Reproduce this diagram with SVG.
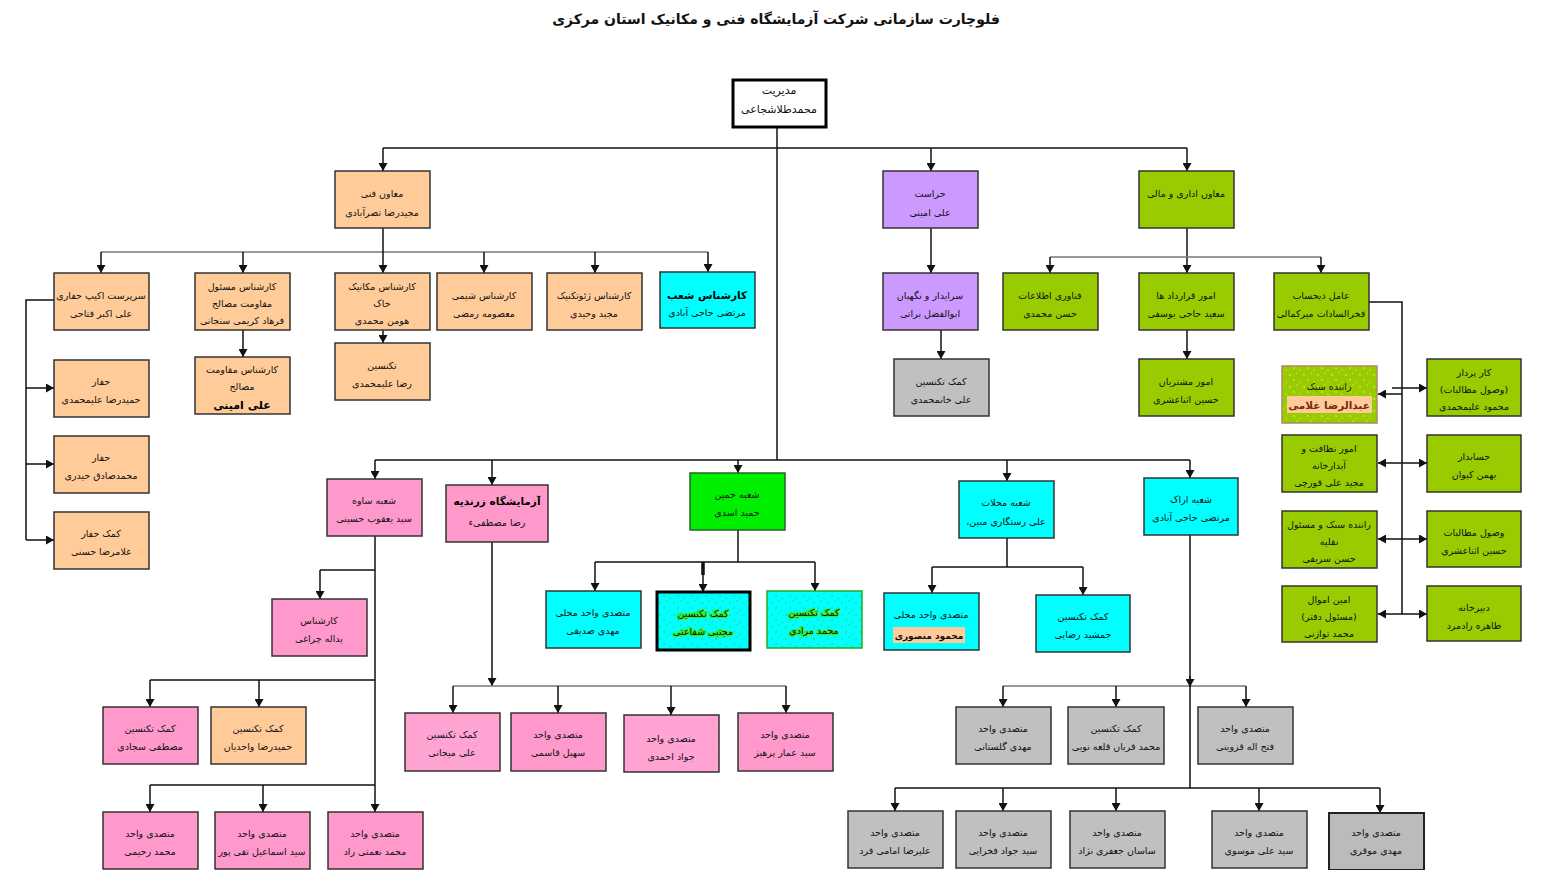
<svg xmlns="http://www.w3.org/2000/svg" width="1551" height="870" viewBox="0 0 1551 870">
<style>
.box{stroke:#333;stroke-width:1.5}
.peach{fill:#FFCC99}.pink{fill:#FF99CC}.lpink{fill:#FFA3D2}.cyan{fill:#00FFFF}.green{fill:#99CC00}.lav{fill:#CC99FF}.gray{fill:#C0C0C0}.lime{fill:#00FF00}
.t{font-family:"DejaVu Sans",sans-serif;font-size:9.5px;fill:#111;text-anchor:middle;direction:rtl}
.tb{font-family:"DejaVu Sans",sans-serif;font-size:10.5px;font-weight:bold;fill:#000;text-anchor:middle;direction:rtl}
.glow{stroke:#33EE33;stroke-width:2.5;paint-order:stroke;stroke-linejoin:round}
.c{fill:none;stroke:#111;stroke-width:1.5}
.cg{fill:none;stroke:#777;stroke-width:1.5}
.a{fill:none;stroke:#111;stroke-width:1.5;marker-end:url(#ar)}
</style>
<defs>
<marker id="ar" markerUnits="userSpaceOnUse" markerWidth="9" markerHeight="9" refX="8" refY="4.5" orient="auto"><path d="M0,0 L8,4.5 L0,9 z" fill="#111"/></marker>
<pattern id="speck" width="14" height="12" patternUnits="userSpaceOnUse"><circle cx="2" cy="3" r="0.8" fill="#33CC33"/><circle cx="9" cy="1" r="0.7" fill="#33CC33"/><circle cx="6" cy="8" r="0.8" fill="#33CC33"/><circle cx="12" cy="10" r="0.7" fill="#33CC33"/></pattern>
<pattern id="speckY" width="14" height="12" patternUnits="userSpaceOnUse"><circle cx="2" cy="3" r="0.7" fill="#FFFF88"/><circle cx="9" cy="1" r="0.6" fill="#FFFF88"/><circle cx="6" cy="8" r="0.7" fill="#FFFF88"/><circle cx="12" cy="10" r="0.6" fill="#FFFF88"/></pattern>
<pattern id="speckP" width="14" height="12" patternUnits="userSpaceOnUse"><circle cx="3" cy="4" r="0.6" fill="#FFD0E8"/><circle cx="10" cy="9" r="0.6" fill="#FFD0E8"/></pattern>
</defs>

<text x="776" y="24" style="font-family:'DejaVu Sans',sans-serif;font-size:14px;font-weight:bold;fill:#111;text-anchor:middle;direction:rtl">فلوچارت سازمانی شرکت آزمایشگاه فنی و مکانیک استان مرکزی</text>

<g id="connectors">
<path class="c" d="M777 127 V460"/>
<path class="c" d="M383 148 H1187"/>
<path class="a" d="M383 148 V171"/><path class="a" d="M931 148 V171"/><path class="a" d="M1187 148 V171"/>
<path class="cg" d="M101 252 H708"/>
<path class="a" d="M383 228 V273"/>
<path class="a" d="M101 252 V273"/><path class="a" d="M243 252 V273"/><path class="a" d="M484 252 V273"/><path class="a" d="M595 252 V273"/><path class="a" d="M708 252 V272"/>
<path class="a" d="M383 330 V343"/><path class="a" d="M243 330 V357"/>
<path class="c" d="M54 300 H26 V540"/>
<path class="a" d="M26 388 H54"/><path class="a" d="M26 464 H54"/><path class="a" d="M26 540 H54"/>
<path class="a" d="M931 228 V273"/><path class="a" d="M941 330 V359"/>
<path class="a" d="M1187 228 V273"/>
<path class="cg" d="M1050 257 H1321"/>
<path class="a" d="M1050 257 V273"/><path class="a" d="M1321 257 V273"/>
<path class="a" d="M1187 330 V359"/>
<path class="c" d="M1369 302 H1402 V614"/>
<path class="a" d="M1402 394 H1378"/><path class="a" d="M1392 388 H1427"/>
<path class="a" d="M1402 463 H1378"/><path class="a" d="M1402 463 H1427"/>
<path class="a" d="M1402 539 H1378"/><path class="a" d="M1402 539 H1427"/>
<path class="a" d="M1402 614 H1378"/><path class="a" d="M1402 614 H1427"/>
<path class="c" d="M375 460 H1190"/>
<path class="a" d="M375 460 V479"/><path class="a" d="M492 460 V485"/><path class="a" d="M738 460 V473"/><path class="a" d="M1007 460 V481"/><path class="a" d="M1190 460 V478"/>
<path class="a" d="M375 536 V812"/>
<path class="c" d="M375 570 H320"/><path class="a" d="M320 570 V599"/>
<path class="c" d="M375 680 H150"/><path class="a" d="M150 680 V707"/><path class="a" d="M259 680 V707"/>
<path class="c" d="M375 785 H150"/><path class="a" d="M150 785 V812"/><path class="a" d="M263 785 V812"/>
<path class="a" d="M492 542 V686"/>
<path class="cg" d="M453 686 H786"/>
<path class="a" d="M453 686 V713"/><path class="a" d="M558 686 V713"/><path class="a" d="M671 686 V715"/><path class="a" d="M786 686 V713"/>
<path class="c" d="M738 530 V562"/>
<path class="c" d="M595 562 H815"/>
<path class="a" d="M595 562 V591"/><path class="a" d="M703 562 V592"/><path class="a" d="M815 562 V591"/>
<path d="M703 562 V575" stroke="#111" stroke-width="3.5"/>
<path class="c" d="M1007 538 V567"/>
<path class="c" d="M932 567 H1083"/>
<path class="a" d="M932 567 V593"/><path class="a" d="M1083 567 V595"/>
<path class="c" d="M1190 535 V788"/>
<path class="cg" d="M1003 686 H1246"/>
<path class="a" d="M1003 686 V707"/><path class="a" d="M1116 686 V707"/><path class="a" d="M1246 686 V707"/>
<path class="a" d="M1190 676 V687"/>
<path class="c" d="M895 788 H1380"/>
<path class="a" d="M895 788 V811"/><path class="a" d="M1003 788 V811"/><path class="a" d="M1116 788 V811"/><path class="a" d="M1259 788 V811"/><path class="a" d="M1380 788 V813"/>
</g>

<g id="n-top"><rect x="733" y="80" width="93" height="47" fill="#fff" stroke="#000" stroke-width="3"/><text class="t" x="779" y="94" style="font-size:11px">مدیریت</text><text class="t" x="779" y="113" style="font-size:11px">محمدطلاشجاعی</text></g>

<g id="n-fanni"><rect class="box peach" x="335" y="171" width="95" height="57"/><text class="t" x="382" y="197">معاون فنی</text><text class="t" x="382" y="216">مجیدرضا تصرآبادی</text></g>
<g id="n-herasat"><rect class="box lav" x="883" y="171" width="95" height="57"/><text class="t" x="930" y="197">حراست</text><text class="t" x="930" y="216">علی امینی</text></g>
<g id="n-edari"><rect class="box green" x="1139" y="171" width="95" height="57"/><text class="t" x="1186" y="197">معاون اداری و مالی</text></g>

<g id="n-sarparast"><rect class="box peach" x="54" y="273" width="95" height="57"/><text class="t" x="101" y="299">سرپرست اکیپ حفاری</text><text class="t" x="101" y="317">علی اکبر فتاحی</text></g>
<g id="n-masool"><rect class="box peach" x="195" y="273" width="95" height="57"/><text class="t" x="242" y="290">کارشناس مسئول</text><text class="t" x="242" y="307">مقاومت مصالح</text><text class="t" x="242" y="324">فرهاد کریمی سنجانی</text></g>
<g id="n-mechanic"><rect class="box peach" x="335" y="273" width="95" height="57"/><text class="t" x="382" y="290">کارشناس مکانیک</text><text class="t" x="382" y="307">خاک</text><text class="t" x="382" y="324">هومن محمدی</text></g>
<g id="n-shimi"><rect class="box peach" x="437" y="273" width="95" height="57"/><text class="t" x="484" y="299">کارشناس شیمی</text><text class="t" x="484" y="317">معصومه رمضی</text></g>
<g id="n-geotech"><rect class="box peach" x="547" y="273" width="95" height="57"/><text class="t" x="594" y="299">کارشناس ژئوتکنیک</text><text class="t" x="594" y="317">مجید وحیدی</text></g>
<g id="n-shoab"><rect class="box cyan" x="660" y="272" width="95" height="56"/><text class="tb" x="707" y="299">کارشناس شعب</text><text class="t" x="707" y="316">مرتضی حاجی آبادی</text></g>
<g id="n-technician"><rect class="box peach" x="335" y="343" width="95" height="57"/><text class="t" x="382" y="369">تکنسین</text><text class="t" x="382" y="387">رضا علیمحمدی</text></g>
<g id="n-moghavemat"><rect class="box peach" x="195" y="357" width="95" height="57"/><text class="t" x="242" y="373">کارشناس مقاومت</text><text class="t" x="242" y="390">مصالح</text><text class="tb" x="242" y="409" style="font-size:11px">علی امینی</text></g>
<g id="n-haffar1"><rect class="box peach" x="54" y="360" width="95" height="57"/><text class="t" x="101" y="385">حفار</text><text class="t" x="101" y="403">حمیدرضا علیمحمدی</text></g>
<g id="n-haffar2"><rect class="box peach" x="54" y="436" width="95" height="57"/><text class="t" x="101" y="461">حفار</text><text class="t" x="101" y="479">محمدصادق حیدری</text></g>
<g id="n-komakhaffar"><rect class="box peach" x="54" y="512" width="95" height="57"/><text class="t" x="101" y="537">کمک حفار</text><text class="t" x="101" y="555">غلامرضا حسنی</text></g>

<g id="n-saraydar"><rect class="box lav" x="883" y="273" width="95" height="57"/><text class="t" x="930" y="299">سرایدار و نگهبان</text><text class="t" x="930" y="317">ابوالفضل براتی</text></g>
<g id="n-khanmohammadi"><rect class="box gray" x="894" y="359" width="95" height="57"/><text class="t" x="941" y="385">کمک تکنسین</text><text class="t" x="941" y="403">علی خانمحمدی</text></g>
<g id="n-fanavari"><rect class="box green" x="1003" y="273" width="95" height="57"/><text class="t" x="1050" y="299">فناوری اطلاعات</text><text class="t" x="1050" y="317">حسن محمدی</text></g>
<g id="n-gharardad"><rect class="box green" x="1139" y="273" width="95" height="57"/><text class="t" x="1186" y="299">امور قرارداد ها</text><text class="t" x="1186" y="317">سعید حاجی یوسفی</text></g>
<g id="n-zihesab"><rect class="box green" x="1274" y="273" width="95" height="57"/><text class="t" x="1321" y="299">عامل ذیحساب</text><text class="t" x="1321" y="317">فخرالسادات میرکمالی</text></g>
<g id="n-moshtarian"><rect class="box green" x="1139" y="359" width="95" height="57"/><text class="t" x="1186" y="385">امور مشتریان</text><text class="t" x="1186" y="403">حسین اثناعشری</text></g>

<g id="n-ranande"><rect x="1282" y="366" width="95" height="57" fill="#99CC00" stroke="#B08860" stroke-width="1.5"/><rect x="1283" y="367" width="93" height="55" fill="url(#speckY)"/><rect x="1287" y="396" width="85" height="17" fill="#FFCC99"/><text class="t" x="1329" y="390">راننده سبک</text><text class="tb" x="1329" y="409" style="font-size:10.5px;fill:#7A2A10">عبدالرضا غلامی</text></g>
<g id="n-nezafat"><rect class="box green" x="1282" y="435" width="95" height="57"/><text class="t" x="1329" y="452">امور نظافت و</text><text class="t" x="1329" y="469">آبدارخانه</text><text class="t" x="1329" y="486">مجید علی قورچی</text></g>
<g id="n-naghlie"><rect class="box green" x="1282" y="511" width="95" height="57"/><text class="t" x="1329" y="528">راننده سبک و مسئول</text><text class="t" x="1329" y="545">نقلیه</text><text class="t" x="1329" y="562">حسن سریفی</text></g>
<g id="n-amin"><rect class="box green" x="1282" y="586" width="95" height="56"/><text class="t" x="1329" y="603">امین اموال</text><text class="t" x="1329" y="620">(مسئول دفتر)</text><text class="t" x="1329" y="637">محمد توازنی</text></g>
<g id="n-karpardaz"><rect class="box green" x="1427" y="359" width="94" height="57"/><text class="t" x="1474" y="376">کار پرداز</text><text class="t" x="1474" y="393">(وصول مطالبات)</text><text class="t" x="1474" y="410">محمود علیمحمدی</text></g>
<g id="n-hesabdar"><rect class="box green" x="1427" y="435" width="94" height="57"/><text class="t" x="1474" y="460">حسابدار</text><text class="t" x="1474" y="478">بهمن کیوان</text></g>
<g id="n-vosool"><rect class="box green" x="1427" y="511" width="94" height="56"/><text class="t" x="1474" y="536">وصول مطالبات</text><text class="t" x="1474" y="554">حسین اثناعشری</text></g>
<g id="n-dabir"><rect class="box green" x="1427" y="586" width="94" height="55"/><text class="t" x="1474" y="611">دبیرخانه</text><text class="t" x="1474" y="629">طاهره رادمرد</text></g>

<g id="n-saveh"><rect class="box pink" x="327" y="479" width="95" height="57"/><text class="t" x="374" y="504">شعبه ساوه</text><text class="t" x="374" y="522">سید یعقوب حسینی</text></g>
<g id="n-zarandieh"><rect class="box pink" x="446" y="485" width="102" height="57"/><text class="tb" x="497" y="505">آزمایشگاه زرندیه</text><text class="t" x="497" y="526">رضا مصطفیء</text></g>
<g id="n-khomein"><rect x="690" y="473" width="95" height="57" fill="#00EE00" stroke="#226622" stroke-width="1.5"/><text class="t" x="737" y="498">شعبه خمین</text><text class="t" x="737" y="516">حمید اسدی</text></g>
<g id="n-mahallat"><rect class="box cyan" x="959" y="481" width="95" height="57"/><text class="t" x="1006" y="506">شعبه محلات</text><text class="t" x="1006" y="525">علی رستگاری مبین،</text></g>
<g id="n-arak"><rect class="box cyan" x="1144" y="478" width="94" height="57"/><text class="t" x="1191" y="503">شعبه اراک</text><text class="t" x="1191" y="521">مرتضی حاجی آبادی</text></g>

<g id="n-seddighi"><rect class="box cyan" x="546" y="591" width="95" height="57"/><text class="t" x="593" y="616">متصدی واحد محلی</text><text class="t" x="593" y="634">مهدی صدیقی</text></g>
<g id="n-shafaati"><rect x="657" y="592" width="93" height="58" fill="#00FFFF" stroke="#000" stroke-width="3"/><rect x="659" y="594" width="89" height="54" fill="url(#speck)"/><text class="t glow" x="703" y="617">کمک تکنسین</text><text class="t glow" x="703" y="635">مجتبی شفاعتی</text></g>
<g id="n-moradi"><rect x="767" y="591" width="95" height="57" fill="#00FFFF" stroke="#22AA22" stroke-width="1.5"/><rect x="768" y="592" width="93" height="55" fill="url(#speck)"/><text class="t glow" x="814" y="616">کمک تکنسین</text><text class="t glow" x="814" y="634">محمد مرادی</text></g>
<g id="n-mansoori"><rect class="box cyan" x="884" y="593" width="95" height="57"/><rect x="893" y="627" width="72" height="16" fill="#FFCC99"/><text class="t" x="931" y="618">متصدی واحد محلی</text><text class="t" x="929" y="639" style="font-size:9px;font-weight:bold">محمود منصوری</text></g>
<g id="n-rezaei"><rect class="box cyan" x="1036" y="595" width="94" height="57"/><text class="t" x="1083" y="620">کمک تکنسین</text><text class="t" x="1083" y="638">جمشید رضایی</text></g>

<g id="n-charaghi"><rect class="box pink" x="272" y="599" width="95" height="57"/><text class="t" x="319" y="624">کارشناس</text><text class="t" x="319" y="642">یداله چراغی</text></g>
<g id="n-sajadi"><rect class="box pink" x="103" y="707" width="95" height="57"/><text class="t" x="150" y="732">کمک تکنسین</text><text class="t" x="150" y="750">مصطفی سجادی</text></g>
<g id="n-vahedian"><rect class="box peach" x="211" y="707" width="95" height="57"/><text class="t" x="258" y="732">کمک تکنسین</text><text class="t" x="258" y="750">حمیدرضا واحدیان</text></g>
<g id="n-rahimi"><rect class="box pink" x="103" y="812" width="95" height="57"/><text class="t" x="150" y="837">متصدی واحد</text><text class="t" x="150" y="855">محمد رحیمی</text></g>
<g id="n-taghipour"><rect class="box pink" x="215" y="812" width="95" height="57"/><text class="t" x="262" y="837">متصدی واحد</text><text class="t" x="262" y="855">سید اسماعیل تقی پور</text></g>
<g id="n-nemati"><rect class="box pink" x="328" y="812" width="95" height="57"/><text class="t" x="375" y="837">متصدی واحد</text><text class="t" x="375" y="855">محمد نعمتی راد</text></g>

<g id="n-mijani"><rect class="box lpink" x="405" y="713" width="95" height="58"/><rect x="406" y="714" width="93" height="56" fill="url(#speckP)"/><text class="t" x="452" y="738">کمک تکنسین</text><text class="t" x="452" y="756">علی میجانی</text></g>
<g id="n-ghasemi"><rect class="box pink" x="511" y="713" width="95" height="58"/><text class="t" x="558" y="738">متصدی واحد</text><text class="t" x="558" y="756">سهیل قاسمی</text></g>
<g id="n-ahmadi"><rect class="box lpink" x="624" y="715" width="95" height="57"/><rect x="625" y="716" width="93" height="55" fill="url(#speckP)"/><text class="t" x="671" y="742">متصدی واحد</text><text class="t" x="671" y="760">جواد احمدی</text></g>
<g id="n-parhiz"><rect class="box pink" x="738" y="713" width="95" height="58"/><text class="t" x="785" y="738">متصدی واحد</text><text class="t" x="785" y="756">سید عمار پرهیز</text></g>

<g id="n-golestani"><rect class="box gray" x="956" y="707" width="95" height="57"/><text class="t" x="1003" y="732">متصدی واحد</text><text class="t" x="1003" y="750">مهدی گلستانی</text></g>
<g id="n-ghorban"><rect class="box gray" x="1068" y="707" width="96" height="57"/><text class="t" x="1116" y="732">کمک تکنسین</text><text class="t" x="1116" y="750">محمد قربان قلعه نویی</text></g>
<g id="n-ghazvini"><rect class="box gray" x="1198" y="707" width="95" height="57"/><text class="t" x="1245" y="732">متصدی واحد</text><text class="t" x="1245" y="750">فتح اله قزوینی</text></g>
<g id="n-emami"><rect class="box gray" x="848" y="811" width="95" height="57"/><text class="t" x="895" y="836">متصدی واحد</text><text class="t" x="895" y="854">علیرضا امامی فرد</text></g>
<g id="n-fakhraei"><rect class="box gray" x="956" y="811" width="95" height="57"/><text class="t" x="1003" y="836">متصدی واحد</text><text class="t" x="1003" y="854">سید جواد فخرایی</text></g>
<g id="n-jafari"><rect class="box gray" x="1070" y="811" width="95" height="57"/><text class="t" x="1117" y="836">متصدی واحد</text><text class="t" x="1117" y="854">ساسان جعفری نژاد</text></g>
<g id="n-mousavi"><rect class="box gray" x="1212" y="811" width="95" height="57"/><text class="t" x="1259" y="836">متصدی واحد</text><text class="t" x="1259" y="854">سید علی موسوی</text></g>
<g id="n-movaghari"><rect x="1329" y="813" width="95" height="57" fill="#BBBBBB" stroke="#222" stroke-width="2"/><text class="t" x="1376" y="836">متصدی واحد</text><text class="t" x="1376" y="854">مهدی موقری</text></g>
</svg>
